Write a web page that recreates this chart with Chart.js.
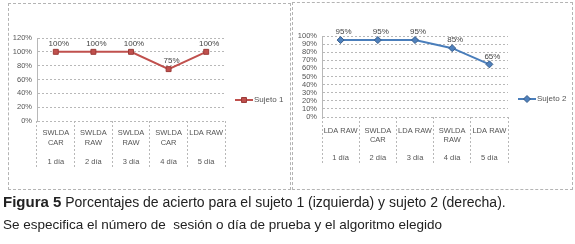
<!DOCTYPE html>
<html>
<head>
<meta charset="utf-8">
<script src="https://cdn.jsdelivr.net/npm/chart.js@4.4.0/dist/chart.umd.min.js"></script>
<style>
  body { margin: 0; width: 575px; height: 244px; background: #fff; position: relative; overflow: hidden; }
  .panel { position: absolute; box-sizing: border-box; border: 1px dashed #b4b4b4; }
  canvas { position: absolute; }
  .cap { position: absolute; left: 3px; font-family: "Liberation Sans", Arial, sans-serif; color: #222; white-space: nowrap; }
</style>
</head>
<body>
<canvas id="chart1" width="282" height="186" style="left:8px;top:3px"></canvas>
<canvas id="chart2" width="281" height="187" style="left:292px;top:2px"></canvas>
<div class="panel" style="left:8px;top:3px;width:283px;height:187px"></div>
<div class="panel" style="left:292px;top:2px;width:281px;height:188px"></div>
<div class="cap" style="top:193px;font-size:14px"><b style="font-size:15px">Figura 5</b> Porcentajes de acierto para el sujeto 1 (izquierda) y sujeto 2 (derecha).</div>
<div class="cap" style="top:217px;font-size:13.5px">Se especifica el número de&nbsp; sesión o día de prueba y el algoritmo elegido</div>
<script>
// sujeto 1
var labels1 = [['SWLDA', 'CAR', '', '1 día'], ['SWLDA', 'RAW', '', '2 día'], ['SWLDA', 'RAW', '', '3 día'], ['SWLDA', 'CAR', '', '4 día'], ['LDA RAW', '', '', '5 día']];
var values1 = [100, 100, 100, 75, 100];
// sujeto 2
var labels2 = [['LDA RAW', '', '', '1 día'], ['SWLDA', 'CAR', '', '2 día'], ['LDA RAW', '', '', '3 día'], ['SWLDA', 'RAW', '', '4 día'], ['LDA RAW', '', '', '5 día']];
var values2 = [95, 95, 95, 85, 65];

var gridCol = '#b8b8b8';
var textCol = '#555';
var smallFont = { family: 'Liberation Sans', size: 7.5 };

// etiquetas encima de cada punto
var pointLabels = {
  id: 'pointLabels',
  afterDatasetsDraw: function (chart) {
    var ctx = chart.ctx;
    var meta = chart.getDatasetMeta(0);
    ctx.save();
    ctx.font = '8px "Liberation Sans"';
    ctx.fillStyle = '#444';
    ctx.textAlign = 'center';
    ctx.textBaseline = 'middle';
    meta.data.forEach(function (pt, i) {
      ctx.fillText(chart.data.datasets[0].data[i] + '%', pt.x + 3, pt.y - 8);
    });
    ctx.restore();
  }
};

// leyenda estilo Excel: linea con marcador
var lineLegend = {
  id: 'lineLegend',
  afterDraw: function (chart, args, opts) {
    var ctx = chart.ctx;
    var ds = chart.data.datasets[0];
    ctx.save();
    ctx.strokeStyle = ds.borderColor;
    ctx.lineWidth = 2;
    ctx.beginPath();
    ctx.moveTo(opts.x, opts.y);
    ctx.lineTo(opts.x + 18, opts.y);
    ctx.stroke();
    ctx.fillStyle = ds.pointBackgroundColor;
    ctx.strokeStyle = ds.pointBorderColor;
    ctx.lineWidth = 1;
    Chart.helpers.drawPoint(ctx, { pointStyle: ds.pointStyle, radius: 3.5, borderWidth: 1 }, opts.x + 9, opts.y);
    ctx.fillStyle = textCol;
    ctx.font = '8px "Liberation Sans"';
    ctx.textBaseline = 'middle';
    ctx.fillText(ds.label, opts.x + 19, opts.y);
    ctx.restore();
  }
};

function makeChart(id, labels, values, cfg) {
  return new Chart(document.getElementById(id), {
    type: 'line',
    data: {
      labels: labels,
      datasets: [{
        label: cfg.label,
        data: values,
        borderColor: cfg.line,
        borderWidth: 2,
        pointStyle: cfg.point,
        pointRadius: 3.5,
        pointBackgroundColor: cfg.fill,
        pointBorderColor: cfg.edge,
        pointBorderWidth: 1,
        tension: 0
      }]
    },
    options: {
      responsive: false,
      animation: false,
      layout: { padding: cfg.padding },
      plugins: {
        legend: { display: false },
        tooltip: { enabled: false },
        lineLegend: cfg.legend
      },
      scales: {
        x: {
          offset: true,
          grid: {
            offset: true,
            drawOnChartArea: false,
            drawTicks: true,
            tickLength: cfg.xHeight,
            tickColor: gridCol,
            tickBorderDash: [2, 2],
            tickWidth: 1
          },
          border: { display: false },
          ticks: {
            color: textCol,
            font: Object.assign({ lineHeight: cfg.lineH }, smallFont),
            padding: cfg.xPad,
            maxRotation: 0,
            autoSkip: false
          },
          afterFit: function (s) { s.height = cfg.xHeight; }
        },
        y: {
          min: 0,
          max: cfg.max,
          grid: { color: gridCol, drawTicks: false },
          border: { display: true, color: gridCol, dash: [2, 2] },
          ticks: {
            stepSize: cfg.step,
            autoSkip: false,
            color: textCol,
            font: smallFont,
            padding: 5,
            callback: function (v) { return v + '%'; }
          },
          afterFit: function (s) { s.width = cfg.yWidth; }
        }
      }
    },
    plugins: [pointLabels, lineLegend]
  });
}

makeChart('chart1', labels1, values1, {
  label: 'Sujeto 1',
  line: '#c0504d', fill: '#c0504d', edge: '#9b3b38', point: 'rect',
  max: 120, step: 20,
  padding: { left: 0, top: 35, right: 65, bottom: 21 },
  yWidth: 29, xHeight: 47, xPad: -40, lineH: 1.3,
  legend: { x: 227, y: 97 }
});

makeChart('chart2', labels2, values2, {
  label: 'Sujeto 2',
  line: '#4a7ebb', fill: '#4f81bd', edge: '#385d8a', point: 'rectRot',
  max: 100, step: 10,
  padding: { left: 0, top: 34, right: 65, bottom: 24 },
  yWidth: 30, xHeight: 48, xPad: -39, lineH: 1.23,
  legend: { x: 226, y: 97 }
});
</script>
</body>
</html>
